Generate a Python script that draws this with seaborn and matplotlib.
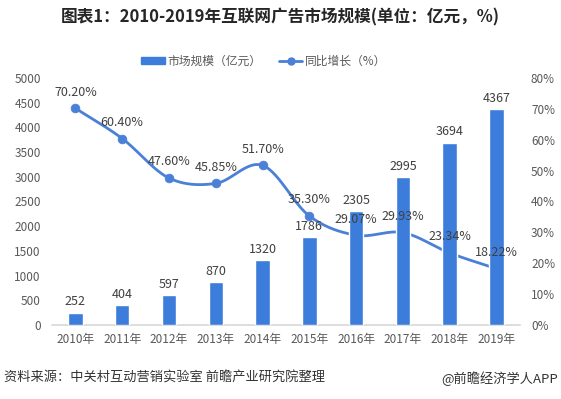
import numpy as np
import pandas as pd
import matplotlib
matplotlib.use("Agg")
import matplotlib.pyplot as plt
from matplotlib.lines import Line2D
from matplotlib.patches import Patch
import seaborn as sns

years = ["2010年", "2011年", "2012年", "2013年", "2014年", "2015年", "2016年", "2017年", "2018年", "2019年"]
market = [252, 404, 597, 870, 1320, 1786, 2305, 2995, 3694, 4367]
growth = [70.20, 60.40, 47.60, 45.85, 51.70, 35.30, 29.07, 29.93, 23.34, 18.22]
left_ticks = [0, 500, 1000, 1500, 2000, 2500, 3000, 3500, 4000, 4500, 5000]
right_ticks = [0, 10, 20, 30, 40, 50, 60, 70, 80]

sns.set_theme(style="white")
plt.rcParams['font.family'] = ['Noto Sans CJK SC', 'DejaVu Sans']
plt.rcParams['axes.unicode_minus'] = False

BAR = "#3C7DDB"
LINE = "#4A80D6"
TXT = "#404040"
TICK = "#595959"

df = pd.DataFrame({"year": years, "market": market, "growth": growth})

fig = plt.figure(figsize=(5.61, 3.99), dpi=100)
ax = fig.add_axes([0.0927, 0.1855, 0.834, 0.619])
ax2 = ax.twinx()
ax2.set_zorder(ax.get_zorder() - 1)
ax.patch.set_visible(False)

sns.barplot(data=df, x="year", y="market", color=BAR, saturation=1, width=0.31, ax=ax, zorder=3)
ax.set_ylim(0, 5000)
ax.set_xlim(-0.5, len(years) - 0.5)
ax.set_yticks(left_ticks)
ax.set_xlabel("")
ax.set_ylabel("")
for c in ax.containers:
    ax.bar_label(c, labels=[str(v) for v in market], padding=3, fontsize=9, color=TXT)

# smoothed line (Catmull-Rom rendering through the data points)
x = np.arange(len(growth), dtype=float)
y = np.array(growth, dtype=float)
px = np.concatenate([[2 * x[0] - x[1]], x, [2 * x[-1] - x[-2]]])
py = np.concatenate([[2 * y[0] - y[1]], y, [2 * y[-1] - y[-2]]])
cx, cy = [], []
t = np.linspace(0, 1, 30)
for i in range(1, len(px) - 2):
    p0, p1, p2, p3 = [np.array([px[j], py[j]]) for j in range(i - 1, i + 3)]
    for tt in t:
        pt = 0.5 * ((2 * p1) + (-p0 + p2) * tt + (2 * p0 - 5 * p1 + 4 * p2 - p3) * tt ** 2
                    + (-p0 + 3 * p1 - 3 * p2 + p3) * tt ** 3)
        cx.append(pt[0]); cy.append(pt[1])
ax2.plot(cx, cy, color=LINE, lw=2)
sns.scatterplot(x=x, y=y, ax=ax2, color=LINE, s=40, edgecolor=LINE, zorder=3, legend=False)
ax2.set_ylim(0, 80)
ax2.set_yticks(right_ticks)
ax2.set_yticklabels([f"{v}%" for v in right_ticks])
ax2.set_xlim(-0.5, len(years) - 0.5)

for xi, yi in zip(x, y):
    ax.annotate(f"{yi:.2f}%", xy=(xi, yi), xycoords=ax2.transData, xytext=(0, 7),
                textcoords="offset points", ha="center", va="bottom", fontsize=9, color=TXT, zorder=5)

for a in (ax, ax2):
    for s in a.spines.values():
        s.set_visible(False)
    a.tick_params(axis="both", length=0, labelsize=8.5, colors=TICK)
ax.spines["bottom"].set_visible(True)
ax.spines["bottom"].set_color("#D9D9D9")
ax.tick_params(axis="y", pad=8)
ax2.tick_params(axis="y", pad=8)
ax.tick_params(axis="x", pad=6)

fig.text(0.5, 0.955, "图表1：2010-2019年互联网广告市场规模(单位：亿元，%)", ha="center", va="center",
         fontsize=12, fontweight="bold", color="#262626")

handles = [Patch(facecolor=BAR, edgecolor=BAR),
           Line2D([0], [0], color=LINE, lw=2, marker="o", markersize=5)]
fig.legend(handles, ["市场规模（亿元）", "同比增长（%）"], loc="center", bbox_to_anchor=(0.47, 0.847),
           ncol=2, frameon=False, fontsize=8.5, handlelength=2.0, handleheight=0.6, columnspacing=1.5,
           handletextpad=0.2, labelcolor=TICK)

fig.text(0.008, 0.052, "资料来源：中关村互动营销实验室 前瞻产业研究院整理", ha="left", va="center",
         fontsize=9.5, color="#333333")
fig.text(0.995, 0.052, "@前瞻经济学人APP", ha="right", va="center", fontsize=9.5, color="#333333")

fig.savefig("out.png", dpi=100)
